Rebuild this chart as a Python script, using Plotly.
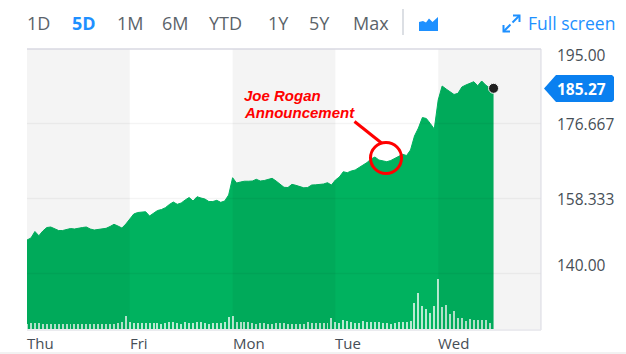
import plotly.graph_objects as go

PERIODS = ["1D", "5D", "1M", "6M", "YTD", "1Y", "5Y", "Max"]
PERIOD_LEFT = [27, 72, 117, 162, 209, 268, 309, 353]
DAYS = ["Thu", "Fri", "Mon", "Tue", "Wed"]
Y_TICKS = [195.0, 176.667, 158.333, 140.0]
Y_LABELS = ["195.00", "176.667", "158.333", "140.00"]
Y_SHIFT = [-6, 0, 0, 9]
LAST_PRICE = 185.27

PRICE = [
    148.19, 148.68, 150.27, 149.24, 150.39, 151.24, 151.37, 150.88, 150.51, 150.51,
    150.76, 151.00, 150.88, 151.12, 151.24, 151.37, 150.88, 150.63, 150.76, 150.88,
    151.05, 151.49, 152.03, 151.61, 151.12, 152.10, 153.32, 154.55, 154.91, 155.03,
    155.11, 154.06, 154.67, 155.40, 155.64, 156.09, 156.87, 157.48, 156.92, 157.23,
    157.97, 158.58, 157.72, 158.77, 158.46, 158.21, 157.60, 157.60, 157.89, 157.40,
    157.72, 159.19, 163.42, 162.12, 162.37, 162.56, 162.56, 162.61, 163.03, 162.61,
    162.73, 162.98, 163.27, 162.61, 161.76, 161.07, 161.02, 161.80, 161.56, 161.32,
    160.95, 161.02, 161.63, 161.68, 161.71, 161.88, 162.20, 161.63, 162.86, 163.59,
    164.89, 164.64, 165.06, 165.30, 165.91, 166.52, 167.13, 167.99, 168.48, 167.74,
    167.50, 167.33, 167.62, 168.11, 168.60, 169.14, 168.84, 170.19, 173.61, 175.57,
    178.13, 177.89, 176.67, 175.32, 182.41, 185.83, 185.10, 184.37, 183.76, 184.05,
    185.59, 186.08, 186.44, 186.88, 185.91, 187.06, 186.08, 185.34, 185.27,
]
VOLUME = [
    5, 6, 6, 6, 5, 5, 5, 5, 5, 5, 5, 5, 5, 5, 5, 5, 5, 5, 5, 5, 5, 5, 5, 6, 7, 13,
    7, 6, 6, 6, 6, 6, 6, 6, 5, 6, 7, 7, 6, 5, 7, 6, 6, 7, 7, 6, 5, 6, 6, 6, 7, 12,
    13, 7, 7, 7, 7, 6, 5, 6, 6, 5, 5, 6, 6, 6, 5, 5, 5, 5, 5, 7, 6, 6, 6, 6, 6, 11,
    7, 6, 9, 8, 7.5, 6, 6, 8, 7, 7, 7, 7, 6.5, 6, 5.5, 6, 7, 7, 7, 8, 26, 36, 23, 20, 16, 23,
    50, 22, 24, 15, 18, 11, 11, 8, 10, 9, 9.5, 9, 9, 6,
]

W, H = 626, 354
L, R, T, B = 27, 541, 49, 329
YMIN, YMAX = 126.44, 194.88
px = lambda x: (x - L) / (R - L)
py = lambda y: (B - y) / (B - T)
BLUE = "#1e90ff"
TAGBLUE = "#0a80f0"
GREEN = "#00b25f"
GREY = "#464e56"
TICKFONT = "Open Sans"

bars_per_day = 26
t_price = [i / bars_per_day for i in range(len(PRICE))]
t_vol = [i / bars_per_day for i in range(len(VOLUME))]

fig = go.Figure()
fig.add_trace(go.Scatter(x=t_price, y=PRICE, mode="lines", fill="tozeroy", fillcolor=GREEN,
                         line=dict(color=GREEN, width=1), showlegend=False, yaxis="y"))
fig.add_trace(go.Bar(x=t_vol, y=VOLUME, width=0.5 / bars_per_day, yaxis="y2", showlegend=False,
                     marker=dict(color="rgba(255,255,255,0.72)", line=dict(width=0))))
fig.add_trace(go.Scatter(x=[t_price[-1]], y=[LAST_PRICE], mode="markers", showlegend=False, yaxis="y3",
                         marker=dict(color="#222222", size=10, line=dict(color="white", width=1))))

shapes = []
for d in range(len(DAYS)):
    if d % 2 == 0:
        shapes.append(dict(type="rect", xref="x", yref="paper", x0=d, x1=d + 1, y0=0, y1=1, layer="above",
                           fillcolor="rgba(0,0,0,0.045)", line=dict(width=0)))
for v in Y_TICKS[1:]:
    shapes.append(dict(type="line", xref="paper", yref="y", x0=0, x1=1, y0=v, y1=v, layer="above",
                       line=dict(color="rgba(0,0,0,0.045)", width=1.5)))


def pline(x0, y0, x1, y1, color, width):
    return dict(type="line", xref="paper", yref="paper", x0=px(x0), x1=px(x1), y0=py(y0), y1=py(y1),
                layer="above", line=dict(color=color, width=width))


def ppath(points, color, fill=True, width=2):
    d = "M" + " L".join(f"{px(x):.5f},{py(y):.5f}" for x, y in points) + (" Z" if fill else "")
    return dict(type="path", xref="paper", yref="paper", path=d, layer="above",
                fillcolor=color if fill else "rgba(0,0,0,0)",
                line=dict(color=color, width=0 if fill else width))


BORDER = "#d9d9e2"
shapes += [pline(L, T, R, T, BORDER, 1.5), pline(R, T, R, B + 1, BORDER, 1), pline(L, B + 1, R, B + 1, "#e4e4ea", 1.5)]
shapes.append(pline(403, 9, 403, 35, "#dcdfe4", 2))
shapes.append(ppath([(419, 31), (419, 22), (423, 21), (426, 22.5), (429, 18.5), (432.5, 22), (438, 17), (438, 31)], BLUE))
shapes += [
    ppath([(513, 15.5), (519.5, 15.5), (519.5, 22)], BLUE, fill=False),
    pline(519.5, 15.5, 512.5, 22.5, BLUE, 2),
    ppath([(510, 31.5), (503.5, 31.5), (503.5, 25)], BLUE, fill=False),
    pline(503.5, 31.5, 510.5, 24.5, BLUE, 2),
]
shapes.append(ppath([(544, 88.5), (556, 75), (612, 75), (614, 77), (614, 100), (612, 102), (556, 102)], TAGBLUE))
shapes.append(pline(354.5, 121.5, 381.5, 143, "#ff0000", 3))
shapes.append(dict(type="circle", xref="paper", yref="paper", x0=px(370.5), x1=px(401.5), y0=py(173.5), y1=py(142.5),
                   layer="above", line=dict(color="#ff0000", width=3), fillcolor="rgba(0,0,0,0)"))
shapes.append(dict(type="rect", xref="paper", yref="paper", x0=px(0), x1=px(W), y0=py(354), y1=py(352),
                   layer="above", fillcolor="#f2f2f2", line=dict(width=0)))

ann = []
for label, left in zip(PERIODS, PERIOD_LEFT):
    active = label == "5D"
    ann.append(dict(text=f"<b>{label}</b>" if active else label, x=px(left), y=py(23), xref="paper", yref="paper",
                    xanchor="left", yanchor="middle", showarrow=False, xshift=-2,
                    font=dict(family=TICKFONT, size=18, color=BLUE if active else "#5b636a")))
ann.append(dict(text="Full screen", x=px(528), y=py(23), xref="paper", yref="paper", xanchor="left", yanchor="middle",
                showarrow=False, xshift=-2, font=dict(family=TICKFONT, size=17.5, color=BLUE)))
for d, label in enumerate(DAYS):
    ann.append(dict(text=label, x=d, y=py(343), xref="x", yref="paper", xanchor="left", yanchor="middle",
                    showarrow=False, xshift=-2, font=dict(family=TICKFONT, size=15, color=GREY)))
for v, label, s in zip(Y_TICKS, Y_LABELS, Y_SHIFT):
    ann.append(dict(text=label, x=px(557), y=(v - YMIN) / (YMAX - YMIN), xref="paper", yref="paper", xanchor="left",
                    yanchor="middle", showarrow=False, xshift=-2, yshift=s,
                    font=dict(family=TICKFONT, size=15.5, color=GREY)))
ann.append(dict(text=f"<b>{LAST_PRICE:.2f}</b>", x=px(581.5), y=py(88.5), xref="paper", yref="paper",
                xanchor="center", yanchor="middle", showarrow=False,
                font=dict(family=TICKFONT, size=15.5, color="white")))
for line, cy in zip(["Joe Rogan", "Announcement"], [95.5, 112]):
    ann.append(dict(text=f"<b><i>{line}</i></b>", x=px(244), y=py(cy), xref="paper", yref="paper",
                    xanchor="left", yanchor="middle", showarrow=False, xshift=-2,
                    font=dict(family="Liberation Sans", size=15, color="#ff0000")))

fig.update_layout(
    width=W, height=H, margin=dict(l=L, r=W - R, t=T, b=H - B, pad=0, autoexpand=False),
    paper_bgcolor="white", plot_bgcolor="white", bargap=0, shapes=shapes, annotations=ann,
    hovermode=False,
    xaxis=dict(range=[0, len(DAYS)], showgrid=False, zeroline=False, showticklabels=False, ticks=""),
    yaxis=dict(range=[YMIN, YMAX], showgrid=False, zeroline=False, showticklabels=False, ticks=""),
    yaxis2=dict(range=[0, 280], overlaying="y", showgrid=False, zeroline=False, showticklabels=False, ticks=""),
    yaxis3=dict(range=[YMIN, YMAX], overlaying="y", showgrid=False, zeroline=False, showticklabels=False, ticks=""),
)
fig.write_html("out.html", config={"displayModeBar": False}, post_script="document.body.style.margin='0';")
